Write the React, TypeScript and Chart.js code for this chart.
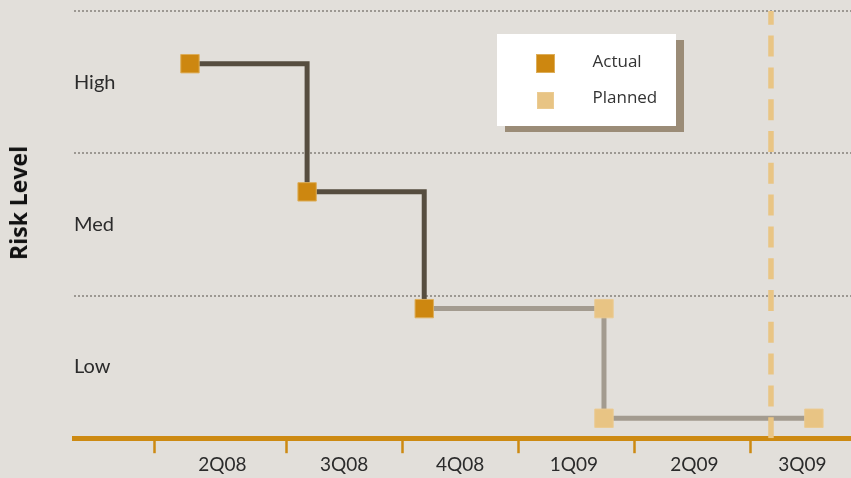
import React, { useEffect, useRef } from 'react';
import { Chart, registerables } from 'chart.js';

Chart.register(...registerables);

// ---- data ----
const quarterLabels = ['2Q08', '3Q08', '4Q08', '1Q09', '2Q09', '3Q09'];
const quarterLabelPos = [0.97, 2.02, 3.02, 4.0, 5.04, 5.97];
const quarterTickPos = [0.38, 1.52, 2.52, 3.52, 4.52, 5.52];
const riskLabels = ['Low', 'Med', 'High'];
const riskBoundaries = [1, 2, 3];
const actualX = [0.69, 1.7, 2.71];
const actualY = [2.63, 1.73, 0.91];
const plannedX = [2.71, 4.26, 4.26, 6.07];
const plannedY = [0.91, 0.91, 0.14, 0.14];
const todayX = [5.7, 5.7];
const todayY = [0, 3];
const seriesNames = ['Actual', 'Planned'];

// ---- styles ----
const BG = '#E2DFDA';
const ACTUAL_MARK = '#CD8710';
const ACTUAL_LINE = '#564D3F';
const PLANNED_MARK = '#E8C484';
const PLANNED_LINE = '#A39B8F';
const AXIS = '#CD8A12';
const TODAY = '#E9C584';
const GRID = '#9C9892';
const TEXT = '#2B2B2B';

const near = (a: number, b: number) => Math.abs(a - b) < 1e-6;
const noPadding = (scale: any) => {
  scale.paddingTop = 0;
  scale.paddingBottom = 0;
  scale.paddingLeft = 0;
  scale.paddingRight = 0;
};

export default function App() {
  const ref = useRef<HTMLCanvasElement | null>(null);

  useEffect(() => {
    if (!ref.current) return;
    const chart = new Chart(ref.current, {
      type: 'line',
      data: {
        datasets: [
          {
            label: 'today',
            data: todayX.map((x, i) => ({ x, y: todayY[i] })),
            borderColor: TODAY,
            borderWidth: 5.5,
            borderDash: [21, 10.8],
            borderCapStyle: 'butt',
            pointRadius: 0,
            fill: false,
          },
          {
            label: seriesNames[0],
            data: actualX.map((x, i) => ({ x, y: actualY[i] })),
            stepped: 'before',
            borderColor: ACTUAL_LINE,
            borderWidth: 5,
            borderJoinStyle: 'miter',
            pointStyle: 'rect',
            pointRadius: 13,
            pointBackgroundColor: ACTUAL_MARK,
            pointBorderColor: '#DDAE5A',
            pointBorderWidth: 1,
            fill: false,
          },
          {
            label: seriesNames[1],
            data: plannedX.map((x, i) => ({ x, y: plannedY[i] })),
            stepped: 'before',
            borderColor: PLANNED_LINE,
            borderWidth: 5,
            borderJoinStyle: 'miter',
            pointStyle: 'rect',
            pointRadius: plannedX.map((_, i) => (i === 0 ? 0 : 13)),
            pointBackgroundColor: PLANNED_MARK,
            pointBorderColor: '#EBCB92',
            pointBorderWidth: 1,
            fill: false,
          },
        ],
      },
      options: {
        responsive: false,
        animation: false,
        events: [],
        devicePixelRatio: 1,
        layout: { autoPadding: false, padding: { top: 11, left: 74, right: 0, bottom: 2 } },
        plugins: { legend: { display: false }, tooltip: { enabled: false } },
        scales: {
          x: {
            type: 'linear',
            min: -0.31,
            max: 6.39,
            afterBuildTicks: (scale: any) => {
              scale.ticks = [...quarterTickPos, ...quarterLabelPos]
                .sort((a, b) => a - b)
                .map((value) => ({ value }));
            },
            afterFit: noPadding,
            ticks: {
              autoSkip: false,
              maxRotation: 0,
              padding: 0,
              color: TEXT,
              font: { family: 'Lato', size: 19 },
              callback: (value: any) => {
                const i = quarterLabelPos.findIndex((p) => near(p, Number(value)));
                return i >= 0 ? quarterLabels[i] : '';
              },
            },
            grid: {
              display: true,
              drawOnChartArea: false,
              drawTicks: true,
              tickLength: 15,
              tickColor: AXIS,
              tickWidth: (ctx: any) =>
                ctx.tick && quarterTickPos.some((p) => near(p, ctx.tick.value)) ? 2.5 : 0,
            },
            border: { display: true, color: AXIS, width: 5 },
          },
          y: {
            type: 'linear',
            min: 0,
            max: 3,
            afterBuildTicks: (scale: any) => {
              const vals: number[] = [];
              riskLabels.forEach((_, i) => vals.push(i + 0.5));
              riskBoundaries.forEach((b) => vals.push(b));
              scale.ticks = vals.sort((a, b) => a - b).map((value) => ({ value }));
            },
            afterFit: noPadding,
            ticks: {
              mirror: true,
              padding: 0,
              color: TEXT,
              font: { family: 'Lato', size: 20 },
              callback: (value: any) => {
                const v = Number(value);
                return Number.isInteger(v) ? '' : riskLabels[Math.floor(v)];
              },
            },
            grid: {
              drawTicks: false,
              color: GRID,
              lineWidth: (ctx: any) => (ctx.tick && Number.isInteger(ctx.tick.value) ? 2 : 0),
            },
            border: { display: false, dash: [2, 2] },
          },
        },
      },
    } as any);
    return () => chart.destroy();
  }, []);

  const legendItems = [
    { label: seriesNames[0], color: ACTUAL_MARK, border: '#DDAE5A', size: 19, top: 54, textTop: 51 },
    { label: seriesNames[1], color: PLANNED_MARK, border: '#EBCB92', size: 17, top: 91.5, textTop: 87 },
  ];

  return (
    <div
      style={{
        position: 'fixed',
        left: 0,
        top: 0,
        width: 851,
        height: 478,
        background: BG,
        overflow: 'hidden',
      }}
    >
      <canvas ref={ref} width={851} height={478} style={{ display: 'block', width: 851, height: 478 }} />
      <div
        style={{
          position: 'absolute',
          left: 18,
          top: 203,
          transform: 'translate(-50%, -50%) rotate(-90deg)',
          fontFamily: '"Open Sans", sans-serif',
          fontWeight: 700,
          fontSize: 23,
          color: '#111',
          whiteSpace: 'nowrap',
          lineHeight: '26px',
        }}
      >
        Risk Level
      </div>
      <div
        style={{
          position: 'absolute',
          left: 497,
          top: 34,
          width: 179,
          height: 92,
          background: '#FFFFFF',
          boxShadow: '8px 6px 0 #9B8C77',
        }}
      />
      {legendItems.map((it) => (
        <React.Fragment key={it.label}>
          <div
            style={{
              position: 'absolute',
              left: 545.7 - it.size / 2,
              top: it.top,
              width: it.size,
              height: it.size,
              boxSizing: 'border-box',
              background: it.color,
              border: `1px solid ${it.border}`,
            }}
          />
          <div
            style={{
              position: 'absolute',
              left: 592.5,
              top: it.textTop,
              fontFamily: '"Open Sans", sans-serif',
              fontSize: 17,
              lineHeight: '20px',
              color: '#333',
              whiteSpace: 'nowrap',
            }}
          >
            {it.label}
          </div>
        </React.Fragment>
      ))}
    </div>
  );
}
